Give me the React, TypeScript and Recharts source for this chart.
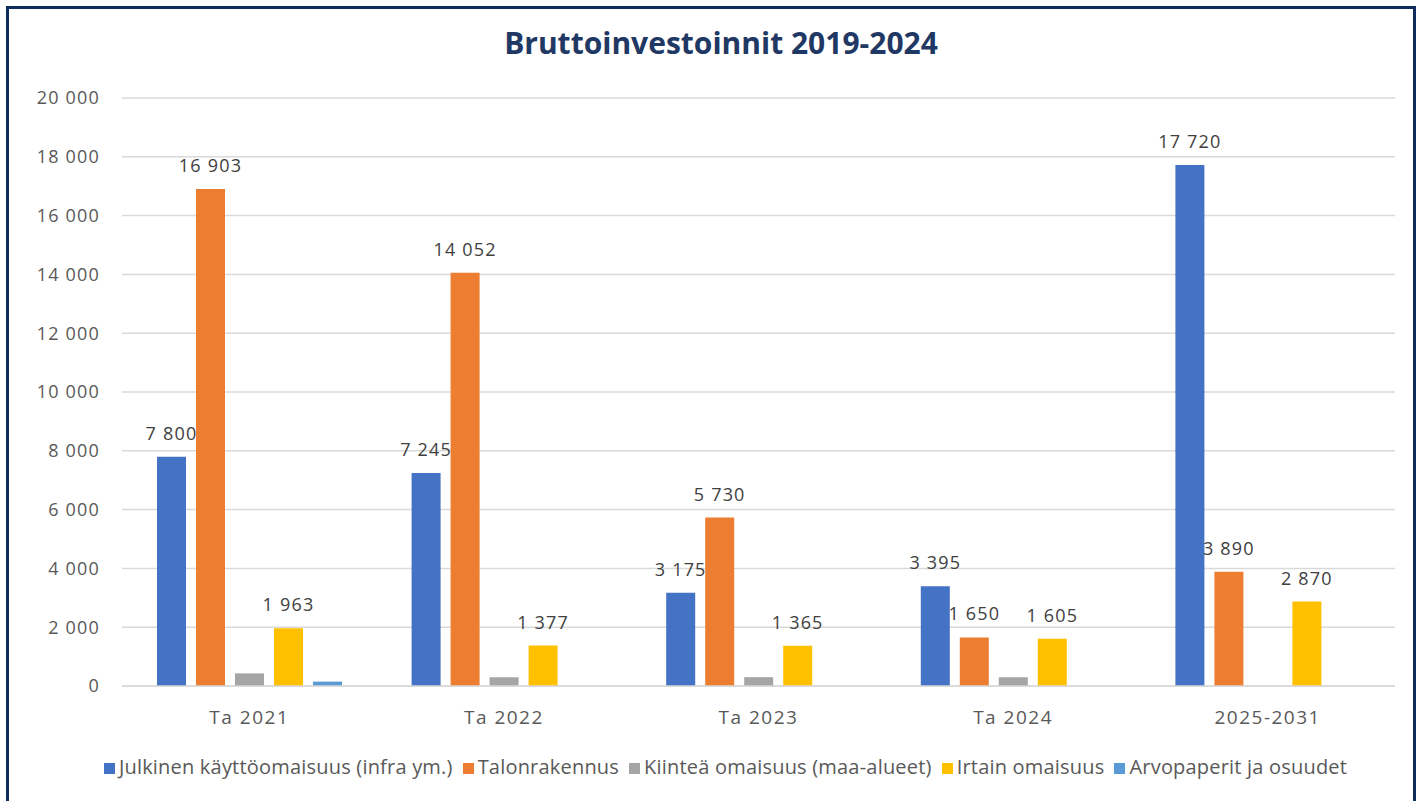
import React from 'react';
import { BarChart, Bar, XAxis, YAxis, CartesianGrid, Legend, LabelList } from 'recharts';

const categories = ['Ta 2021', 'Ta 2022', 'Ta 2023', 'Ta 2024', '2025-2031'];
const julkinen = [7800, 7245, 3175, 3395, 17720];
const talonrakennus = [16903, 14052, 5730, 1650, 3890];
const kiintea = [430, 300, 300, 300, 0];
const irtain = [1963, 1377, 1365, 1605, 2870];
const arvopaperit = [150, 0, 0, 0, 0];
const yTicks = [0, 2000, 4000, 6000, 8000, 10000, 12000, 14000, 16000, 18000, 20000];

const seriesNames = [
  'Julkinen käyttöomaisuus (infra ym.)',
  'Talonrakennus',
  'Kiinteä omaisuus (maa-alueet)',
  'Irtain omaisuus',
  'Arvopaperit ja osuudet',
];

const data = categories.map((c, i) => ({
  name: c,
  julkinen: julkinen[i],
  talonrakennus: talonrakennus[i],
  kiintea: kiintea[i],
  irtain: irtain[i],
  arvopaperit: arvopaperit[i],
}));

const fmt = (v: number) => String(v).replace(/\B(?=(\d{3})+(?!\d))/g, '\u00a0');

const FONT = '"Open Sans", sans-serif';
const labelStyle = { fill: '#404040', fontSize: 18, fontFamily: FONT, letterSpacing: 1.2 };

export default function App() {
  return (
    <div style={{ position: 'absolute', left: 0, top: 0, width: 1422, height: 801, background: '#fff', overflow: 'hidden' }}>
      <div
        style={{
          position: 'absolute',
          left: 6,
          top: 6,
          width: 1404,
          height: 820,
          border: '3px solid #0f2d5c',
          boxSizing: 'content-box',
        }}
      />
      <div
        style={{
          position: 'absolute',
          left: 0,
          top: 22,
          width: 1442,
          textAlign: 'center',
          fontFamily: FONT,
          fontWeight: 700,
          fontSize: 30,
          color: '#1f3864',
        }}
      >
        Bruttoinvestoinnit 2019-2024
      </div>
      <div style={{ position: 'absolute', left: 0, top: 0 }}>
        <BarChart
          width={1422}
          height={801}
          data={data}
          margin={{ top: 98, right: 27, left: 0, bottom: 42 }}
          barCategoryGap={35}
          barGap={10}
        >
          <CartesianGrid vertical={false} stroke="#d9d9d9" strokeWidth={1.5} />
          <XAxis
            dataKey="name"
            height={46}
            axisLine={{ stroke: '#d9d9d9', strokeWidth: 1.5 }}
            tickLine={false}
            tickMargin={19}
            tick={{ fill: '#595959', fontSize: 19, fontFamily: FONT, letterSpacing: 1.5 }}
          />
          <YAxis
            width={122}
            domain={[0, 20000]}
            ticks={yTicks}
            axisLine={false}
            tickLine={false}
            tickMargin={16}
            tickFormatter={fmt}
            tick={{ fill: '#595959', fontSize: 18, fontFamily: FONT, letterSpacing: 1.2 }}
          />
          <Legend
            iconType="square"
            iconSize={11}
            itemSorter={(item: any) => seriesNames.indexOf(item.value)}
            wrapperStyle={{ top: 753, left: 33, fontFamily: FONT, fontSize: 20, letterSpacing: 0.2 }}
            formatter={(value: string) => <span style={{ color: '#595959' }}>{value}</span>}
          />
          <Bar dataKey="julkinen" name={seriesNames[0]} fill="#4472c4" isAnimationActive={false}>
            <LabelList dataKey="julkinen" position="top" offset={17} formatter={fmt} style={labelStyle} />
          </Bar>
          <Bar dataKey="talonrakennus" name={seriesNames[1]} fill="#ed7d31" isAnimationActive={false}>
            <LabelList dataKey="talonrakennus" position="top" offset={17} formatter={fmt} style={labelStyle} />
          </Bar>
          <Bar dataKey="kiintea" name={seriesNames[2]} fill="#a5a5a5" isAnimationActive={false} />
          <Bar dataKey="irtain" name={seriesNames[3]} fill="#ffc000" isAnimationActive={false}>
            <LabelList dataKey="irtain" position="top" offset={17} formatter={fmt} style={labelStyle} />
          </Bar>
          <Bar dataKey="arvopaperit" name={seriesNames[4]} fill="#5b9bd5" isAnimationActive={false} />
        </BarChart>
      </div>
    </div>
  );
}
